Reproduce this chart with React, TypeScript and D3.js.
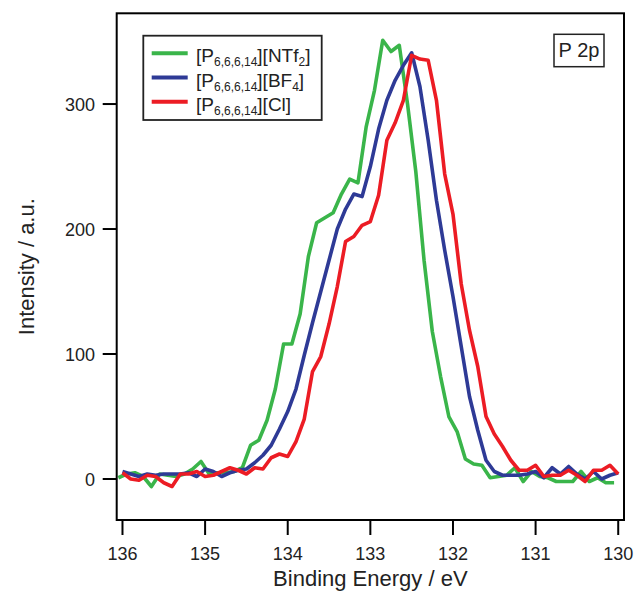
import React from "react";
import * as d3 from "d3";

// ---- data ----
const energies = [
  136.0, 135.9, 135.8, 135.7, 135.6, 135.5, 135.4, 135.3, 135.2, 135.1,
  135.0, 134.9, 134.8, 134.7, 134.6, 134.5, 134.4, 134.3, 134.2, 134.1,
  134.0, 133.9, 133.8, 133.7, 133.6, 133.5, 133.4, 133.3, 133.2, 133.1,
  133.0, 132.9, 132.8, 132.7, 132.6, 132.5, 132.4, 132.3, 132.2, 132.1,
  132.0, 131.9, 131.8, 131.7, 131.6, 131.5, 131.4, 131.3, 131.2, 131.1,
  131.0, 130.9, 130.8, 130.7, 130.6, 130.5, 130.4, 130.3, 130.2, 130.1,
  130.0,
];
const energiesNTf2 = [
  136.05, 135.95, 135.85, 135.75, 135.65, 135.55, 135.45, 135.35, 135.25, 135.15,
  135.05, 134.95, 134.85, 134.75, 134.65, 134.55, 134.45, 134.35, 134.25, 134.15,
  134.05, 133.95, 133.85, 133.75, 133.65, 133.55, 133.45, 133.35, 133.25, 133.15,
  133.05, 132.95, 132.85, 132.75, 132.65, 132.55, 132.45, 132.35, 132.25, 132.15,
  132.05, 131.95, 131.85, 131.75, 131.65, 131.55, 131.45, 131.35, 131.25, 131.15,
  131.05, 130.95, 130.85, 130.75, 130.65, 130.55, 130.45, 130.35, 130.25, 130.15,
  130.05,
];
const ntf2Values = [
  1, 4, 5, 2, -6, 4, 3, 2, 4, 8,
  14, 4, 5, 5, 6, 9, 27, 31, 47, 72,
  108, 108, 132, 178, 205, 209, 213, 228, 240, 237,
  282, 311, 351, 342, 347, 300, 246, 175, 118, 82,
  50, 38, 16, 12, 11, 1, 2, 3, 9, -2,
  6, 2, 1, -2, -2, -2, 6, -2, 1, -3,
  -3,
];
const bf4Values = [
  6, 4, 2, 4, 3, 4, 4, 4, 5, 2,
  8, 6, 2, 5, 7, 8, 13, 19, 27, 40,
  54, 72, 99, 125, 150, 175, 200, 216, 228, 226,
  250, 280, 303, 319, 331, 341, 314, 271, 223, 183,
  146, 106, 66, 39, 15, 6, 3, 3, 3, 4,
  6, 1, 9, 4, 10, 4, 0, 6, 0, 3,
  5,
];
const clValues = [
  5, 0, -1, 3, 2, -3, -6, 4, 4, 6,
  2, 3, 6, 9, 7, 4, 9, 8, 17, 20,
  18, 30, 48, 86, 98, 124, 154, 190, 194, 203,
  206, 227, 271, 285, 303, 339, 336, 335, 303, 244,
  212, 156, 119, 90, 50, 36, 26, 15, 7, 7,
  11, 2, 3, 3, 7, 3, -2, 7, 7, 11,
  4,
];
const seriesColors = ["#3ab54a", "#2e3a96", "#ec1c24"];
const anionLabels = ["NTf", "BF", "Cl"];
const anionSubs = ["2", "4", ""];
const xTicks = [136, 135, 134, 133, 132, 131, 130];
const yTicks = [0, 100, 200, 300];
const xTitle = "Binding Energy / eV";
const yTitle = "Intensity / a.u.";
const panelLabel = "P 2p";

const W = 636;
const H = 592;
const L = 116.7, R = 624, T = 13.3, B = 520;
const FONT = "'Liberation Sans', Arial, Helvetica, sans-serif";

export default function App() {
  const x = d3.scaleLinear().domain([136.07, 129.93]).range([L, R]);
  const y = d3.scaleLinear().domain([-32.8, 372.6]).range([B, T]);

  const series = [
    { e: energiesNTf2, v: ntf2Values },
    { e: energies, v: bf4Values },
    { e: energies, v: clValues },
  ];
  const line = (e: number[], v: number[]) =>
    d3
      .line<number>()
      .x((_, i) => x(e[i]))
      .y((d) => y(d))(v) || "";

  return (
    <svg
      width={W}
      height={H}
      style={{ position: "absolute", left: 0, top: 0, background: "#fff" }}
      fontFamily={FONT}
    >
      <defs>
        <clipPath id="plotclip">
          <rect x={L} y={T} width={R - L} height={B - T} />
        </clipPath>
      </defs>
      <rect x={0} y={0} width={W} height={H} fill="#fff" />
      <g clipPath="url(#plotclip)">
        {series.map((s, i) => (
          <path
            key={i}
            d={line(s.e, s.v)}
            fill="none"
            stroke={seriesColors[i]}
            strokeWidth={3.6}
            strokeLinejoin="round"
          />
        ))}
      </g>
      <rect x={L} y={T} width={R - L} height={B - T} fill="none" stroke="#000" strokeWidth={2} />
      {yTicks.map((t) => (
        <g key={t}>
          <line x1={L - 14} x2={L} y1={y(t)} y2={y(t)} stroke="#000" strokeWidth={2} />
          <text x={95} y={y(t) + 6.5} textAnchor="end" fontSize={18} fill="#222">
            {t}
          </text>
        </g>
      ))}
      {xTicks.map((t) => (
        <g key={t}>
          <line x1={x(t)} x2={x(t)} y1={B} y2={B + 15} stroke="#000" strokeWidth={2} />
          <text x={x(t)} y={560} textAnchor="middle" fontSize={18} fill="#222">
            {t}
          </text>
        </g>
      ))}
      <text x={(L + R) / 2} y={586} textAnchor="middle" fontSize={22} fill="#222">
        {xTitle}
      </text>
      <text
        transform={`translate(34,${(T + B) / 2}) rotate(-90)`}
        textAnchor="middle"
        fontSize={22}
        fill="#222"
      >
        {yTitle}
      </text>
      {/* legend */}
      <rect x={143.3} y={35.7} width={178.4} height={84.3} fill="#fff" stroke="#222" strokeWidth={1.8} />
      {seriesColors.map((c, i) => {
        const ly = 53.3 + i * 24.2;
        return (
          <g key={i}>
            <line x1={151.7} x2={187.7} y1={ly} y2={ly} stroke={c} strokeWidth={4} />
            <text x={196} y={ly + 9} fontSize={19} fill="#222">
              [P
              <tspan fontSize={12} dy={4}>6,6,6,14</tspan>
              <tspan dy={-4}>]{"[" + anionLabels[i]}</tspan>
              {anionSubs[i] ? (
                <>
                  <tspan fontSize={12} dy={4}>{anionSubs[i]}</tspan>
                  <tspan dy={-4}>]</tspan>
                </>
              ) : (
                <tspan>]</tspan>
              )}
            </text>
          </g>
        );
      })}
      <rect x={554} y={34.3} width={50} height={32.4} fill="#fff" stroke="#222" strokeWidth={1.5} />
      <text x={579} y={57.3} textAnchor="middle" fontSize={20} fill="#222">
        {panelLabel}
      </text>
    </svg>
  );
}
